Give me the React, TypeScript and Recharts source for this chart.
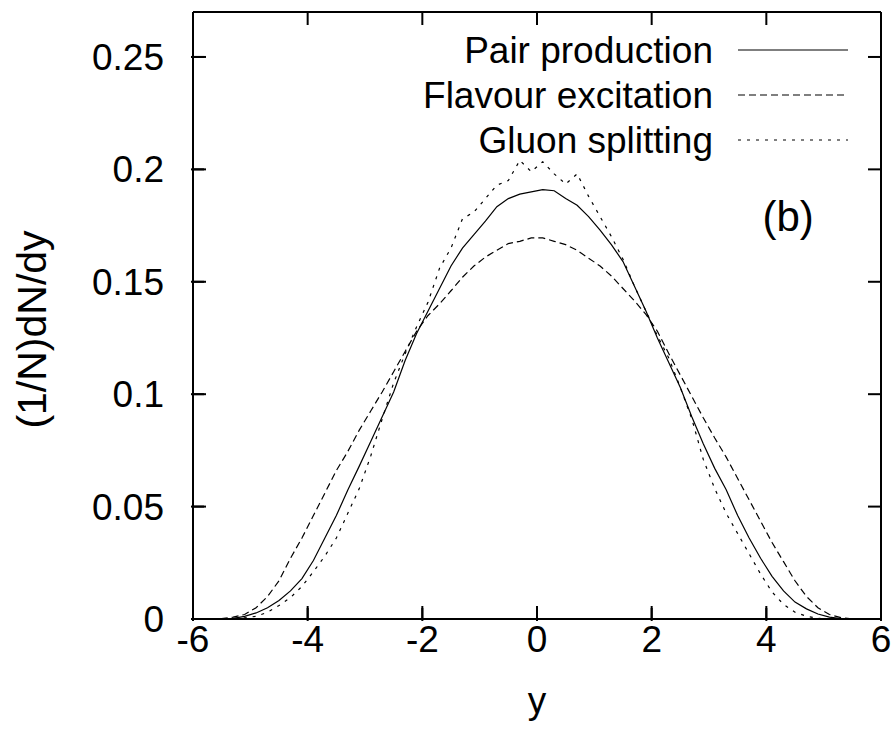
import React from 'react';
import { LineChart, Line, XAxis, YAxis, Label, ReferenceDot, ReferenceLine, CartesianGrid } from 'recharts';

const FONT = '"Liberation Sans", Arial, Helvetica, sans-serif';
const FS = 37;

const rapidity = [
  -5.9, -5.7, -5.5, -5.3, -5.1, -4.9, -4.7, -4.5, -4.3, -4.1,
  -3.9, -3.7, -3.5, -3.3, -3.1, -2.9, -2.7, -2.5, -2.3, -2.1,
  -1.9, -1.7, -1.5, -1.3, -1.1, -0.9, -0.7, -0.5, -0.3, -0.1,
  0.1, 0.3, 0.5, 0.7, 0.9, 1.1, 1.3, 1.5, 1.7, 1.9,
  2.1, 2.3, 2.5, 2.7, 2.9, 3.1, 3.3, 3.5, 3.7, 3.9,
  4.1, 4.3, 4.5, 4.7, 4.9, 5.1, 5.3, 5.5, 5.7, 5.9,
];

const pairProduction = [
  0, 0, 0, 0.0003, 0.0012, 0.0027, 0.005, 0.0082, 0.0125, 0.018,
  0.026, 0.036, 0.046, 0.0574, 0.068, 0.079, 0.09, 0.101, 0.115, 0.127,
  0.137, 0.147, 0.157, 0.165, 0.171, 0.177, 0.1834, 0.187, 0.189, 0.19,
  0.191, 0.1905, 0.187, 0.184, 0.179, 0.173, 0.1664, 0.159, 0.148, 0.137,
  0.125, 0.114, 0.103, 0.09, 0.078, 0.067, 0.0575, 0.046, 0.036, 0.027,
  0.019, 0.0125, 0.0075, 0.0045, 0.0022, 0.0008, 0.0002, 0, 0, 0,
];

const flavourExcitation = [
  0, 0, 0.0002, 0.0008, 0.002, 0.005, 0.01, 0.017, 0.027, 0.036,
  0.046, 0.056, 0.066, 0.0745, 0.084, 0.0925, 0.101, 0.11, 0.119, 0.128,
  0.135, 0.1402, 0.146, 0.152, 0.157, 0.161, 0.164, 0.167, 0.168, 0.1695,
  0.1695, 0.168, 0.1665, 0.164, 0.1605, 0.157, 0.1525, 0.147, 0.1415, 0.1355,
  0.128, 0.118, 0.1085, 0.099, 0.0895, 0.0805, 0.072, 0.0625, 0.053, 0.0435,
  0.034, 0.0255, 0.017, 0.01, 0.005, 0.002, 0.0006, 0.0001, 0, 0,
];

const gluonSplitting = [
  0, 0, 0, 0.0001, 0.0005, 0.0012, 0.003, 0.006, 0.0095, 0.0145,
  0.021, 0.028, 0.036, 0.047, 0.058, 0.0725, 0.089, 0.105, 0.118, 0.13,
  0.141, 0.156, 0.165, 0.178, 0.181, 0.187, 0.193, 0.195, 0.204, 0.199,
  0.2034, 0.198, 0.1935, 0.198, 0.188, 0.179, 0.17, 0.16, 0.148, 0.137,
  0.126, 0.116, 0.103, 0.089, 0.071, 0.058, 0.047, 0.038, 0.029, 0.02,
  0.012, 0.0065, 0.003, 0.0012, 0.0003, 0, 0, 0, 0, 0,
];

const xTicks = [-6, -4, -2, 0, 2, 4, 6];
const yTicks = [0, 0.05, 0.1, 0.15, 0.2, 0.25];
const seriesNames = ['Pair production', 'Flavour excitation', 'Gluon splitting'];
const seriesKeys = ['pair', 'flavour', 'gluon'];
const seriesDash = ['', '7 4', '3 6'];
const xLabel = 'y';
const yLabel = '(1/N)dN/dy';
const panelLabel = '(b)';
const panelLabelAt = { x: 4.38, y: 0.1726 };

const data = rapidity.map((x, i) => ({
  x,
  pair: pairProduction[i],
  flavour: flavourExcitation[i],
  gluon: gluonSplitting[i],
}));

const TL = 13;
const X_TICK_LEN = (12 * TL) / 688;
const Y_TICK_LEN = (0.27 * TL) / 607;

const BottomTick = (props: any) => {
  const { x, y, payload } = props;
  return (
    <g>
      <line x1={x} y1={Number(y) + TL} x2={x} y2={Number(y)} stroke="#000" strokeWidth={2} />
      <text x={x} y={Number(y) + TL + 31} textAnchor="middle" fontSize={FS} fontFamily={FONT} fill="#000">
        {payload.value}
      </text>
    </g>
  );
};

const LeftTick = (props: any) => {
  const { x, y, payload } = props;
  return (
    <g>
      <line x1={Number(x) - TL} y1={y} x2={Number(x)} y2={y} stroke="#000" strokeWidth={2} />
      <text x={Number(x) - TL - 27} y={Number(y) + 13} textAnchor="end" fontSize={FS} fontFamily={FONT} fill="#000">
        {payload.value}
      </text>
    </g>
  );
};

const XLabelContent = (props: any) => {
  const vb = props.viewBox || {};
  return (
    <text x={vb.x + vb.width / 2} y={vb.y + 94} textAnchor="middle" fontSize={FS} fontFamily={FONT} fill="#000">
      {xLabel}
    </text>
  );
};

const YLabelContent = (props: any) => {
  const vb = props.viewBox || {};
  const cx = vb.x + 46;
  const cy = vb.y + vb.height / 2 + 14;
  return (
    <text
      x={cx}
      y={cy}
      transform={`rotate(-90 ${cx} ${cy})`}
      textAnchor="middle"
      fontSize={41}
      fontFamily={FONT}
      fill="#000"
    >
      {yLabel}
    </text>
  );
};

const PanelLabel = (props: any) => {
  const vb = props.viewBox || {};
  return (
    <text x={vb.cx ?? vb.x} y={vb.cy ?? vb.y} textAnchor="middle" fontSize={42} fontFamily={FONT} fill="#000">
      {panelLabel}
    </text>
  );
};

const axisLine = { stroke: '#000', strokeWidth: 2 };
const tickLine = { stroke: '#000', strokeWidth: 2 };

export default function App() {
  return (
    <div style={{ position: 'absolute', left: 0, top: 0, width: 892, height: 743 }}>
      <LineChart
        width={892}
        height={743}
        data={data}
        margin={{ top: 2, right: 1, bottom: 0, left: 0 }}
      >
        <CartesianGrid stroke="#000" strokeOpacity={0} />
        <XAxis
          xAxisId="b"
          dataKey="x"
          type="number"
          domain={[-6, 6]}
          ticks={xTicks}
          orientation="bottom"
          height={124}
          tickSize={-TL}
          tickLine={tickLine}
          axisLine={axisLine}
          tick={<BottomTick />}
        >
          <Label content={<XLabelContent />} />
        </XAxis>
        <XAxis
          xAxisId="t"
          dataKey="x"
          type="number"
          domain={[-6, 6]}
          ticks={[-6, -4, -2, 0, 2, 4, 6]}
          orientation="top"
          height={10}
          tickSize={-TL}
          tickLine={tickLine}
          axisLine={axisLine}
          tick={false}
        />
        <YAxis
          yAxisId="l"
          type="number"
          domain={[0, 0.27]}
          ticks={yTicks}
          orientation="left"
          width={193}
          tickSize={-TL}
          tickLine={tickLine}
          axisLine={axisLine}
          tick={<LeftTick />}
        >
          <Label content={<YLabelContent />} />
        </YAxis>
        <YAxis
          yAxisId="r"
          type="number"
          domain={[0, 0.27]}
          ticks={[0, 0.05, 0.1, 0.15, 0.2, 0.25]}
          orientation="right"
          width={10}
          tickSize={-TL}
          tickLine={tickLine}
          axisLine={axisLine}
          tick={false}
        />
        <ReferenceLine xAxisId="b" yAxisId="l" y={0.27} stroke="#000" strokeWidth={2} />
        <ReferenceLine xAxisId="b" yAxisId="l" x={6} stroke="#000" strokeWidth={2} />
        {xTicks.map((t) => (
          <ReferenceLine
            key={`xt${t}`}
            xAxisId="b"
            yAxisId="l"
            segment={[{ x: t, y: 0.27 }, { x: t, y: 0.27 - Y_TICK_LEN }]}
            stroke="#000"
            strokeWidth={2}
          />
        ))}
        {yTicks.map((t) => (
          <ReferenceLine
            key={`yr${t}`}
            xAxisId="b"
            yAxisId="l"
            segment={[{ x: 6, y: t }, { x: 6 - X_TICK_LEN, y: t }]}
            stroke="#000"
            strokeWidth={2}
          />
        ))}
        <ReferenceDot
          xAxisId="b"
          yAxisId="l"
          x={panelLabelAt.x}
          y={panelLabelAt.y}
          r={0}
          fill="none"
          stroke="none"
          label={<PanelLabel />}
        />
        {seriesKeys.map((k, i) => (
          <Line
            key={k}
            xAxisId="b"
            yAxisId="l"
            dataKey={k}
            name={seriesNames[i]}
            type="linear"
            stroke="#000"
            strokeWidth={1.2}
            strokeDasharray={seriesDash[i] || undefined}
            dot={false}
            activeDot={false}
            isAnimationActive={false}
          />
        ))}
      </LineChart>
      <svg width={480} height={160} style={{ position: 'absolute', left: 380, top: 12 }}>
        {seriesNames.map((name, i) => {
          const cy = 38 + i * 45;
          return (
            <g key={name}>
              <text x={333} y={cy + 13} textAnchor="end" fontSize={FS} fontFamily={FONT} fill="#000">
                {name}
              </text>
              <line
                x1={358}
                y1={cy}
                x2={468}
                y2={cy}
                stroke="#000"
                strokeWidth={1.2}
                strokeDasharray={seriesDash[i] || undefined}
              />
            </g>
          );
        })}
      </svg>
    </div>
  );
}
